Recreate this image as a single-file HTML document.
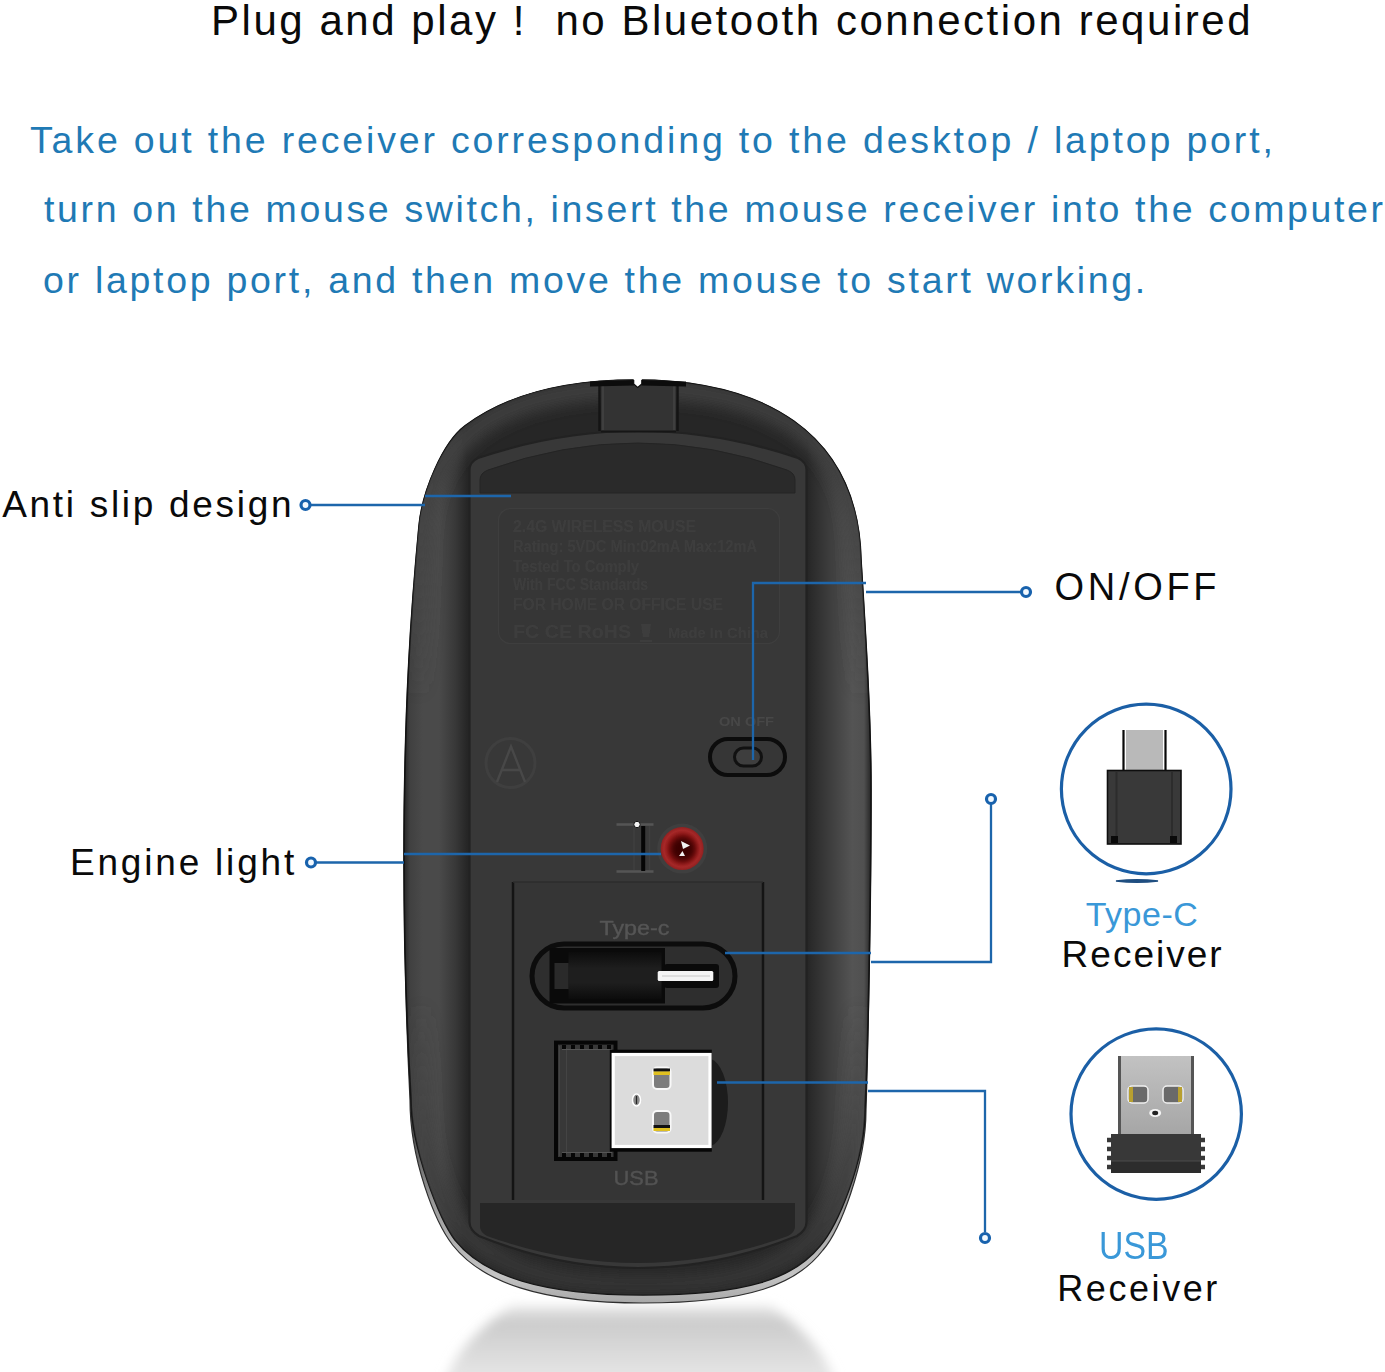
<!DOCTYPE html>
<html><head><meta charset="utf-8">
<style>
html,body{margin:0;padding:0;}
body{width:1385px;height:1372px;background:#fff;position:relative;overflow:hidden;font-family:"Liberation Sans",sans-serif;}
.t{position:absolute;white-space:pre;line-height:1;}
svg{position:absolute;left:0;top:0;}
</style></head><body>
<svg width="1385" height="1372" viewBox="0 0 1385 1372">
<defs>
  <radialGradient id="shadow" cx="0.5" cy="0.05" r="0.75">
    <stop offset="0" stop-color="#c4c4c4"/>
    <stop offset="0.45" stop-color="#dcdcdc"/>
    <stop offset="1" stop-color="#ffffff"/>
  </radialGradient>
  <linearGradient id="bodyg" gradientUnits="userSpaceOnUse" x1="404" y1="0" x2="871" y2="0">
    <stop offset="0" stop-color="#262626"/>
    <stop offset="0.012" stop-color="#404040"/>
    <stop offset="0.04" stop-color="#4a4a4a"/>
    <stop offset="0.075" stop-color="#4a4a4a"/>
    <stop offset="0.11" stop-color="#383838"/>
    <stop offset="0.135" stop-color="#262626"/>
    <stop offset="0.863" stop-color="#262626"/>
    <stop offset="0.875" stop-color="#2c2c2c"/>
    <stop offset="0.96" stop-color="#545454"/>
    <stop offset="0.985" stop-color="#505050"/>
    <stop offset="1" stop-color="#262626"/>
  </linearGradient>
  <linearGradient id="rimg" gradientUnits="userSpaceOnUse" x1="0" y1="1120" x2="0" y2="1303">
    <stop offset="0" stop-color="#444"/>
    <stop offset="0.45" stop-color="#9a9a9a"/>
    <stop offset="0.85" stop-color="#c4c4c4"/>
    <stop offset="1" stop-color="#a8a8a8"/>
  </linearGradient>
  <radialGradient id="ledg" cx="0.5" cy="0.5" r="0.5">
    <stop offset="0" stop-color="#5a0808"/>
    <stop offset="0.6" stop-color="#8c1414"/>
    <stop offset="0.85" stop-color="#a82828"/>
    <stop offset="1" stop-color="#902020"/>
  </radialGradient>
  <filter id="blur12" x="-50%" y="-50%" width="200%" height="200%"><feGaussianBlur stdDeviation="14"/></filter>
  <filter id="blur6" filterUnits="userSpaceOnUse" x="300" y="300" width="700" height="1100"><feGaussianBlur stdDeviation="7"/></filter>
  <filter id="blur07"><feGaussianBlur stdDeviation="0.7"/></filter>
  <clipPath id="bodyclip"><path d="M636,380 C760,380 858,430 861,560 C866,640 871,720 871,790 C871,900 868,1050 865,1108 C865,1163 836.5,1227 820,1246 C794,1278 748,1295 643,1295 C542,1295 484,1276 455,1240 C440,1220 411,1148 411,1098 C405,1000 404,920 404,860 C404,700 412,600 419,526 C422.3,491 443,442.5 465,426 C505,396 560,380 636,380Z"/></clipPath>
  <filter id="blur5" x="-20%" y="-50%" width="140%" height="200%"><feGaussianBlur stdDeviation="6"/></filter>
  <linearGradient id="shadg" gradientUnits="userSpaceOnUse" x1="0" y1="1300" x2="0" y2="1372">
    <stop offset="0" stop-color="#f4f4f4"/>
    <stop offset="0.3" stop-color="#cbcbcb"/>
    <stop offset="0.6" stop-color="#d5d5d5"/>
    <stop offset="1" stop-color="#e4e4e4"/>
  </linearGradient>
  <filter id="blur2" x="-50%" y="-50%" width="200%" height="200%"><feGaussianBlur stdDeviation="3"/></filter>
  <linearGradient id="plugg" x1="0" y1="0" x2="0" y2="1"><stop offset="0" stop-color="#cccccc"/><stop offset="1" stop-color="#a8a8a8"/></linearGradient>
  <linearGradient id="tcbody" x1="0" y1="0" x2="1" y2="0"><stop offset="0" stop-color="#262626"/><stop offset="0.15" stop-color="#353535"/><stop offset="0.5" stop-color="#333"/><stop offset="0.85" stop-color="#353535"/><stop offset="1" stop-color="#262626"/></linearGradient>
  <linearGradient id="metalg" x1="0" y1="0" x2="0" y2="1"><stop offset="0" stop-color="#c2c2c2"/><stop offset="1" stop-color="#a6a6a6"/></linearGradient>
  <linearGradient id="hlg" gradientUnits="userSpaceOnUse" x1="0" y1="400" x2="0" y2="700"><stop offset="0" stop-color="#3c3c3c"/><stop offset="0.4" stop-color="#444"/><stop offset="1" stop-color="#444" stop-opacity="0"/></linearGradient>
  <linearGradient id="tcg" x1="0" y1="0" x2="0" y2="1"><stop offset="0" stop-color="#0c0c0c"/><stop offset="0.35" stop-color="#1e1e1e"/><stop offset="0.65" stop-color="#1e1e1e"/><stop offset="1" stop-color="#0c0c0c"/></linearGradient>
  <linearGradient id="hlg2" gradientUnits="userSpaceOnUse" x1="0" y1="1290" x2="0" y2="1000"><stop offset="0" stop-color="#333"/><stop offset="0.4" stop-color="#404040"/><stop offset="1" stop-color="#444" stop-opacity="0"/></linearGradient>
</defs>
<!-- shadow -->
<path d="M512,1306 L770,1306 Q822,1340 836,1385 L444,1385 Q458,1340 512,1306Z" fill="url(#shadg)" filter="url(#blur5)"/>
<!-- rim -->
<path d="M636,380 C760,380 858,430 861,560 C866,640 871,720 871,790 C871,900 868,1050 866,1110 C866,1165 839.5,1231 823,1250 C797,1284 750,1303 643,1303 C540,1303 482,1282 452.6,1245 C435,1222 410,1160 410,1100 C405,1000 404,920 404,860 C404,700 412,600 419,526 C422.3,491 443,442.5 465,426 C505,396 560,380 636,380Z" fill="url(#rimg)" stroke="#2e2e2e" stroke-width="1.2"/>
<!-- body -->
<path id="bodyp" d="M636,380 C760,380 858,430 861,560 C866,640 871,720 871,790 C871,900 868,1050 865,1108 C865,1163 836.5,1227 820,1246 C794,1278 748,1295 643,1295 C542,1295 484,1276 455,1240 C440,1220 411,1148 411,1098 C405,1000 404,920 404,860 C404,700 412,600 419,526 C422.3,491 443,442.5 465,426 C505,396 560,380 636,380Z" fill="url(#bodyg)" stroke="#121212" stroke-width="1.6"/>
<!-- top highlight band -->
<g clip-path="url(#bodyclip)">
  <path d="M416,780 L421,540 C425,420 530,388 636,388 C750,388 852,425 857,540 L864,780" fill="none" stroke="url(#hlg)" stroke-width="22" filter="url(#blur6)"/>
  <path d="M420,960 L423,1110 C428,1255 520,1285 643,1285 C770,1285 850,1255 855,1110 L860,960" fill="none" stroke="url(#hlg2)" stroke-width="20" filter="url(#blur6)"/>
</g>
<!-- inner panel -->
<path d="M469.5,470 Q469.5,462 478,458 Q638,404 798,458 Q806.5,462 806.5,470 L806.5,1222 Q806.5,1230 797,1236 Q638,1300 479,1236 Q469.5,1230 469.5,1222 Z" fill="#383838" stroke="#222" stroke-width="2.2"/>
<!-- notch block -->
<rect x="601" y="383" width="75" height="48.5" fill="#333333"/>
<path d="M601,431.5 L676,431.5" stroke="#161616" stroke-width="2"/>
<path d="M599.5,384 L599.5,431 M677.5,384 L677.5,431" stroke="#141414" stroke-width="2.5"/>
<path d="M603,386 L603,430 M674,386 L674,430" stroke="#444" stroke-width="1.5"/>
<path d="M590,381.5 L634,380 L634,385.5 L590,386.5Z M641.5,380 L686,381.5 L686,386.5 L641.5,385.5Z" fill="#0c0c0c"/>
<path d="M633.7,378 L641.8,378 L641.8,384 L637.7,387.5 L633.7,384Z" fill="#fff"/>
<path d="M633.7,380 L633.7,384 L637.7,387.5 L641.8,384 L641.8,380" fill="none" stroke="#0c0c0c" stroke-width="1.2"/>
<!-- top foot -->
<path d="M480,493 L480,480 Q480,473 488,470 Q638,416 787,470 Q795,473 795,480 L795,493 Z" fill="#2a2a2a" stroke="#242424" stroke-width="1"/>
<!-- label -->
<rect x="498.5" y="508.5" width="281" height="135" rx="12" fill="#363636" stroke="#3e3e3e" stroke-width="1.2"/>
<g fill="#3e3e3e" font-family="Liberation Sans" font-weight="bold" font-size="16" filter="url(#blur07)">
  <text x="513" y="532" textLength="183" lengthAdjust="spacingAndGlyphs">2.4G WIRELESS MOUSE</text>
  <text x="513" y="552" textLength="244" lengthAdjust="spacingAndGlyphs">Rating: 5VDC Min:02mA Max:12mA</text>
  <text x="513" y="572" textLength="126" lengthAdjust="spacingAndGlyphs">Tested To Comply</text>
  <text x="513" y="590" textLength="135" lengthAdjust="spacingAndGlyphs">With FCC Standards</text>
  <text x="513" y="610" textLength="210" lengthAdjust="spacingAndGlyphs">FOR HOME OR OFFICE USE</text>
  <text x="513" y="638" textLength="118" lengthAdjust="spacingAndGlyphs" font-size="18">FC CE RoHS</text>
  <text x="668" y="638" textLength="100" lengthAdjust="spacingAndGlyphs" font-size="14">Made In China</text>
  <path d="M641,624 L651,624 L649,637 L643,637Z M640,640 h12 v2 h-12Z"/>
</g>
<!-- A circle -->
<circle cx="510.5" cy="763" r="24.5" fill="none" stroke="#3f3f3f" stroke-width="3"/>
<path d="M497,782 L511,746.5 L525,782 M502,770 L520,770" fill="none" stroke="#484848" stroke-width="2.4"/>
<!-- switch -->
<text x="746.5" y="726" text-anchor="middle" font-family="Liberation Sans" font-weight="bold" font-size="13" fill="#474747" textLength="55" lengthAdjust="spacingAndGlyphs" filter="url(#blur07)">ON OFF</text>
<rect x="710" y="739" width="75" height="36" rx="18" fill="#363636" stroke="#0c0c0c" stroke-width="4"/>
<rect x="734.5" y="748" width="27" height="18" rx="9" fill="#3e3e3e" stroke="#111" stroke-width="3"/>
<!-- LED bracket -->
<path d="M616.5,824.5 L653.5,824.5 M616.5,871.5 L653.5,871.5" stroke="#555" stroke-width="2.4"/>
<path d="M634,826 L634,870 M649.5,826 L649.5,870" stroke="#3f3f3f" stroke-width="1.5"/>
<path d="M643.2,826 L643.2,871" stroke="#050505" stroke-width="4"/>
<circle cx="637" cy="824.5" r="3.2" fill="#f4f4f4" stroke="#111" stroke-width="1"/>
<circle cx="682.2" cy="848.6" r="25" fill="#3f3f3f"/>
<circle cx="682.2" cy="848.6" r="21.5" fill="url(#ledg)"/>
<circle cx="683" cy="849" r="12" fill="#3a0404" filter="url(#blur2)"/>
<path d="M681,841 L690,845.5 L683,849Z M679,856 L682.5,851 L685,856Z" fill="#f0f0f0"/>
<!-- compartment -->
<rect x="513" y="882" width="250" height="318" fill="#353535"/>
<path d="M513,882 L513,1200 M763,882 L763,1200" stroke="#141414" stroke-width="2.5"/>
<path d="M513,882 L763,882" stroke="#2c2c2c" stroke-width="1.5"/>
<text x="634.5" y="935" text-anchor="middle" font-family="Liberation Sans" font-size="21" fill="#555" stroke="#555" stroke-width="0.4" textLength="70" lengthAdjust="spacingAndGlyphs" filter="url(#blur07)">Type-c</text>
<!-- slot -->
<rect x="532" y="944" width="203" height="64" rx="32" fill="#2e2e2e" stroke="#0c0c0c" stroke-width="5"/>
<rect x="549.5" y="948" width="115.5" height="55.5" fill="#0a0a0a"/>
<rect x="568.5" y="952" width="93" height="47" fill="url(#tcg)"/>
<rect x="554.5" y="963" width="14" height="26" fill="#2a2a2a"/>
<rect x="664" y="964" width="55" height="24" rx="3" fill="#0a0a0a"/>
<rect x="657.7" y="971" width="55.6" height="10" rx="1.5" fill="#f4f4f4"/>
<path d="M662,976 L710,976" stroke="#c8c8c8" stroke-width="1"/>
<!-- USB receiver -->
<rect x="556" y="1042.6" width="59.5" height="116.4" fill="#383838" stroke="#060606" stroke-width="4"/>
<path d="M559.5,1046 L559.5,1156 M566.5,1048 L566.5,1154" stroke="#444" stroke-width="1"/>
<path d="M562,1047 L612,1047 M562,1155 L612,1155" stroke="#060606" stroke-width="4" stroke-dasharray="4 5"/>
<path d="M562,1049.5 L612,1049.5 M562,1152.5 L612,1152.5" stroke="#555" stroke-width="1"/>
<path d="M711,1059 A20,44 0 0 1 711,1146Z" fill="#1c1c1c"/>
<rect x="609.8" y="1049.7" width="102" height="102" fill="#060606"/>
<rect x="613.2" y="1054.5" width="96.8" height="92" fill="#dcdcdc" stroke="#ffffff" stroke-width="3.2"/>
<rect x="653" y="1067.5" width="17.5" height="21.5" rx="4" fill="#7c7c7c" stroke="#f8f8f8" stroke-width="2"/>
<rect x="653.5" y="1068.5" width="16.5" height="3" fill="#111"/>
<rect x="653.5" y="1071.5" width="16.5" height="3.5" fill="#e0c020"/>
<rect x="653" y="1111" width="17.5" height="21.5" rx="4" fill="#7c7c7c" stroke="#f8f8f8" stroke-width="2"/>
<rect x="653.5" y="1128" width="16.5" height="3" fill="#e0c020"/>
<rect x="653.5" y="1125" width="16.5" height="3" fill="#111"/>
<ellipse cx="636.5" cy="1100" rx="4" ry="6" fill="#8a8a8a" stroke="#fff" stroke-width="1.5"/>
<path d="M636.5,1096 L636.5,1104" stroke="#222" stroke-width="1.2"/>
<text x="636" y="1185" text-anchor="middle" font-family="Liberation Sans" font-size="20" fill="#525252" stroke="#525252" stroke-width="0.4" textLength="45" lengthAdjust="spacingAndGlyphs" filter="url(#blur07)">USB</text>
<!-- bottom foot -->
<path d="M480,1203 L795,1203 L795,1227 Q795,1232 788,1236 Q638,1290 487,1236 Q480,1232 480,1227 Z" fill="#262626"/>

<!-- callout lines -->
<g stroke="#1d66ab" stroke-width="2.3" fill="none">
  <path d="M308,505 L425,505 M425,496 L511,496"/>
  <path d="M313,862.5 L404,862.5 M404,854 L661,854"/>
  <path d="M753,760 L753,583 L866,583 M866,592 L1021,592"/>
  <path d="M725,953 L871,953 M871,962 L991,962 L991,804"/>
  <path d="M717,1082.5 L868,1082.5 M868,1091 L985,1091 L985,1232"/>
</g>
<g stroke="#1862ad" stroke-width="3.2" fill="#f2f9ff">
  <circle cx="305.5" cy="505" r="4.5"/>
  <circle cx="311" cy="862.5" r="4.5"/>
  <circle cx="1026" cy="592" r="4.5"/>
  <circle cx="991" cy="799" r="4.5"/>
  <circle cx="985" cy="1238" r="4.5"/>
</g>

<!-- Type-C receiver icon -->
<circle cx="1146.2" cy="789" r="84.8" fill="none" stroke="#1b5fa6" stroke-width="3.2"/>
<rect x="1126" y="730" width="37" height="42" fill="#b9b9b9"/>
<path d="M1123.5,730 L1123.5,772 M1165.5,730 L1165.5,772" stroke="#080808" stroke-width="2.2"/>
<rect x="1107.5" y="770.5" width="73.5" height="73.5" fill="#393939" stroke="#0e0e0e" stroke-width="1.6"/>
<path d="M1116.5,772 L1116.5,843 M1172,772 L1172,843" stroke="#2c2c2c" stroke-width="2"/>
<rect x="1111" y="836" width="7" height="7" fill="#0a0a0a"/>
<rect x="1170" y="836" width="7" height="7" fill="#0a0a0a"/>
<path d="M1116,881 Q1137,878.5 1158,881 Q1137,883.5 1116,881Z" fill="#1f4e80" stroke="#1f4e80" stroke-width="1.5"/>

<!-- USB receiver icon -->
<circle cx="1156.2" cy="1114.1" r="85.2" fill="none" stroke="#1b5fa6" stroke-width="3.2"/>
<rect x="1118" y="1056" width="76" height="78" fill="url(#metalg)"/>
<path d="M1119.5,1056 L1119.5,1134 M1192.5,1056 L1192.5,1134" stroke="#555" stroke-width="3"/>
<rect x="1128" y="1086" width="20" height="17" rx="4" fill="#6a6a6a" stroke="#f0f0f0" stroke-width="1.5"/>
<rect x="1129" y="1087" width="4" height="15" fill="#b8a030"/>
<rect x="1163" y="1086" width="20" height="17" rx="4" fill="#6a6a6a" stroke="#f0f0f0" stroke-width="1.5"/>
<rect x="1178" y="1087" width="4" height="15" fill="#b8a030"/>
<ellipse cx="1155.2" cy="1113" rx="6" ry="4" fill="#f4f4f4"/>
<ellipse cx="1155.2" cy="1113" rx="3" ry="2.2" fill="#222"/>
<rect x="1111" y="1134" width="90" height="39" fill="#383838"/>
<path d="M1111,1140 h-4 M1111,1149 h-4 M1111,1158 h-4 M1111,1167 h-4 M1201,1140 h4 M1201,1149 h4 M1201,1158 h4 M1201,1167 h4" stroke="#383838" stroke-width="4.5"/>
<rect x="1111" y="1161" width="90" height="12" fill="#2c2c2c"/>
<path d="M1111,1161 h90" stroke="#4a4a4a" stroke-width="1"/>
</svg>

<div class="t" style="left:211px;top:-0.4px;font-size:42px;letter-spacing:2.54px;color:#0a0a0a">Plug and play !  no Bluetooth connection required</div>
<div class="t" style="left:30px;top:121.8px;font-size:37.5px;letter-spacing:2.84px;color:#1f7ab5">Take out the receiver corresponding to the desktop / laptop port,</div>
<div class="t" style="left:44px;top:191.3px;font-size:37.5px;letter-spacing:2.65px;color:#1f7ab5">turn on the mouse switch, insert the mouse receiver into the computer</div>
<div class="t" style="left:43px;top:261.5px;font-size:37.5px;letter-spacing:2.71px;color:#1f7ab5">or laptop port, and then move the mouse to start working.</div>
<div class="t" style="left:2.2px;top:485.9px;font-size:37px;letter-spacing:2.7px;color:#0a0a0a">Anti slip design</div>
<div class="t" style="left:70px;top:843.9px;font-size:37px;letter-spacing:2.8px;color:#0a0a0a">Engine light</div>
<div class="t" style="left:1054.5px;top:567.5px;font-size:38px;letter-spacing:3.7px;color:#0a0a0a">ON/OFF</div>
<div class="t" style="left:1085.7px;top:896.7px;font-size:34px;letter-spacing:0.5px;color:#3a98d8">Type-C</div>
<div class="t" style="left:1061.6px;top:935.9px;font-size:37px;letter-spacing:2px;color:#0a0a0a">Receiver</div>
<div class="t" style="left:1099.4px;top:1226.9px;font-size:38px;letter-spacing:0px;color:#3a98d8;transform:scaleX(0.89);transform-origin:0 0">USB</div>
<div class="t" style="left:1057.3px;top:1271.1px;font-size:36px;letter-spacing:2.57px;color:#0a0a0a">Receiver</div>
</body></html>
